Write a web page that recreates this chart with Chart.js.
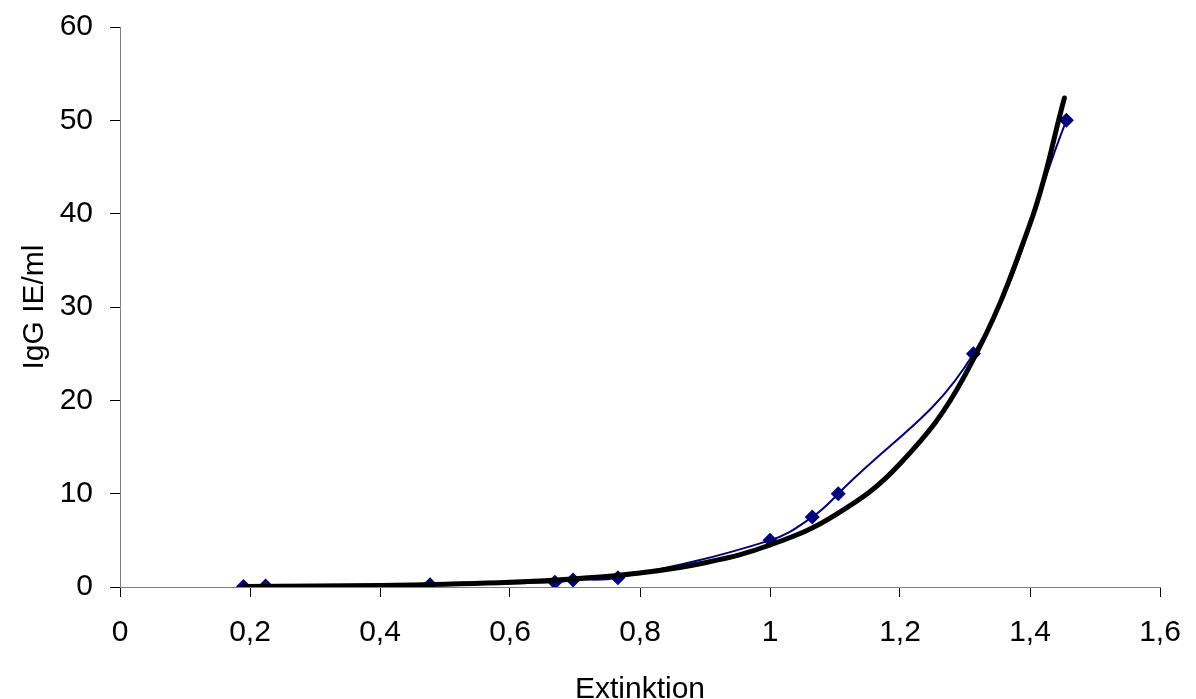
<!DOCTYPE html>
<html>
<head>
<meta charset="utf-8">
<script src="https://cdn.jsdelivr.net/npm/chart.js@4/dist/chart.umd.min.js"></script>
<style>
  html, body { margin: 0; padding: 0; background: #fff; }
  #wrap { width: 1196px; height: 699px; }
</style>
</head>
<body>
<div id="wrap"><canvas id="chart" width="1196" height="699"></canvas></div>
<script>
// measured points (Extinktion -> IgG IE/ml)
const extinktion = [0.19, 0.224, 0.477, 0.669, 0.697, 0.766, 1.0, 1.065, 1.105, 1.313, 1.456];
const igg = [0.05, 0.1, 0.25, 0.5, 0.75, 1, 5, 7.5, 10, 25, 50];

// black trend curve
const trendX = [0.19, 0.3, 0.4, 0.5, 0.6, 0.7, 0.8, 0.9, 1.0, 1.1, 1.2, 1.3, 1.4, 1.453];
const trendY = [0.06, 0.1, 0.17, 0.3, 0.5, 0.88, 1.5, 2.6, 4.5, 7.7, 13.2, 22.7, 38.9, 52.4];

const xTickLabels = ['0', '0,2', '0,4', '0,6', '0,8', '1', '1,2', '1,4', '1,6'];

const fontFamily = '"Liberation Sans", Arial, sans-serif';
const textFont = { family: fontFamily, size: 30 };

const ctx = document.getElementById('chart').getContext('2d');
new Chart(ctx, {
  type: 'scatter',
  data: {
    datasets: [
      {
        label: 'Trend',
        data: trendX.map((x, i) => ({ x: x, y: trendY[i] })),
        showLine: true,
        borderColor: '#000000',
        borderWidth: 5,
        borderCapStyle: 'round',
        pointRadius: 0,
        tension: 0.4,
        order: 0,
      },
      {
        label: 'IgG',
        data: extinktion.map((x, i) => ({ x: x, y: igg[i] })),
        showLine: true,
        borderColor: '#000080',
        borderWidth: 2,
        backgroundColor: '#000080',
        pointStyle: 'rectRot',
        pointRadius: 7.5,
        pointBorderWidth: 0,
        tension: 0.4,
        order: 1,
      },
    ],
  },
  options: {
    responsive: false,
    animation: false,
    events: [],
    layout: { padding: { top: 27, right: 36, bottom: 0, left: 0 } },
    plugins: {
      legend: { display: false },
      tooltip: { enabled: false },
    },
    scales: {
      x: {
        type: 'linear',
        min: 0,
        max: 1.6,
        afterFit: (scale) => {
          scale.height = 112;
          scale.paddingLeft = 0;
          scale.paddingRight = 0;
        },
        ticks: {
          stepSize: 0.2,
          color: '#000',
          font: textFont,
          padding: 18,
          callback: (value, index) => xTickLabels[index],
        },
        grid: { drawOnChartArea: false, drawTicks: true, tickLength: 10, color: '#000' },
        border: { color: '#808080', width: 1 },
        title: {
          display: true,
          text: 'Extinktion',
          color: '#000',
          font: textFont,
          padding: { top: 0, bottom: -9 },
        },
      },
      y: {
        min: 0,
        max: 60,
        afterFit: (scale) => {
          scale.width = 120;
          scale.paddingTop = 0;
          scale.paddingBottom = 0;
        },
        ticks: {
          stepSize: 10,
          color: '#000',
          font: textFont,
          padding: 17,
        },
        grid: { drawOnChartArea: false, drawTicks: true, tickLength: 10, color: '#000' },
        border: { color: '#808080', width: 1 },
        title: {
          display: true,
          text: 'IgG IE/ml',
          color: '#000',
          font: textFont,
          padding: { top: 17, bottom: 0 },
        },
      },
    },
  },
});
</script>
</body>
</html>
